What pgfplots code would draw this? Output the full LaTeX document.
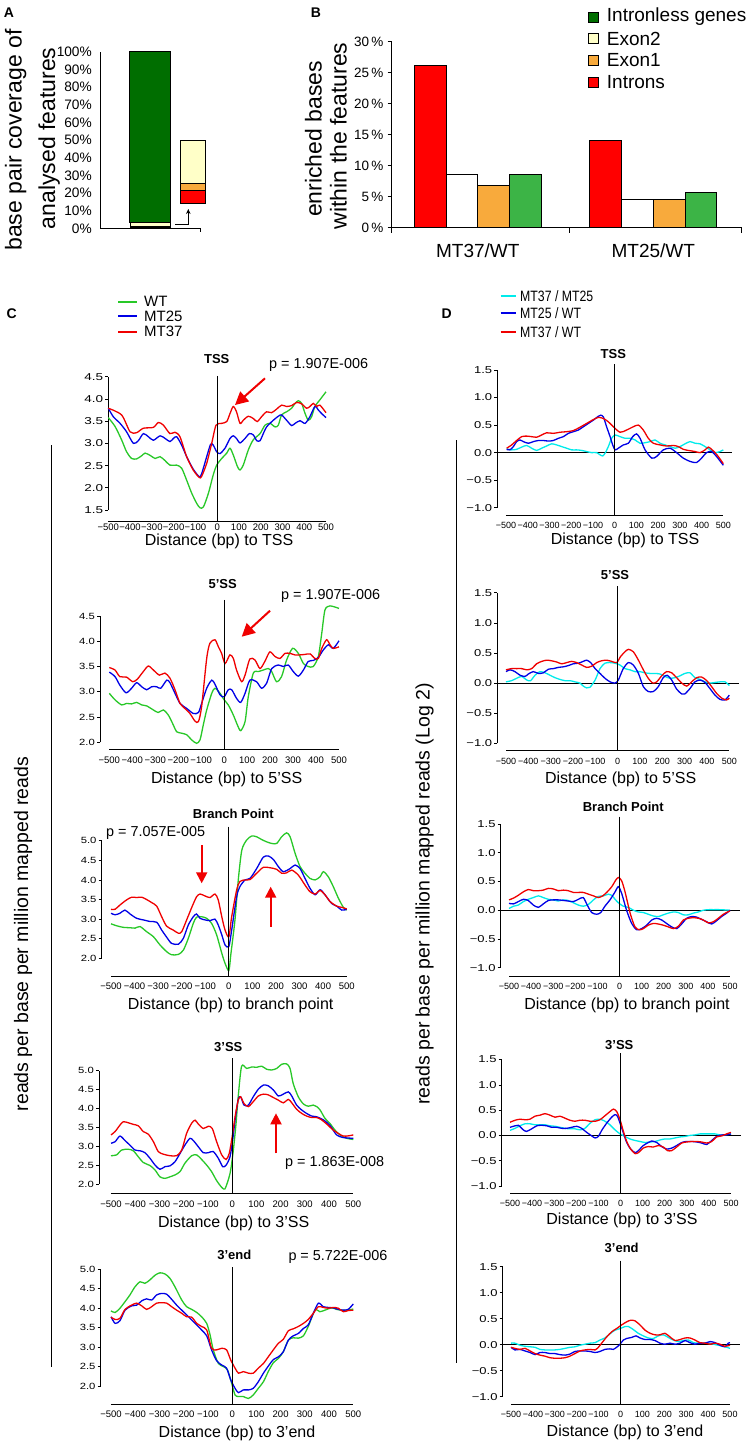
\documentclass[border=0pt]{standalone}
\usepackage{fontspec}
\setmainfont{Liberation Sans}
\usepackage{graphicx}
\usepackage{pgfplots}
\pgfplotsset{compat=1.18}
\usetikzlibrary{arrows.meta}
\newcommand{\fs}[1]{\fontsize{#1}{#1}\selectfont}
\newcommand{\sy}[1]{\scalebox{1.25}[1]{#1}}
\newcommand{\syb}[1]{\scalebox{1.35}[1]{#1}}
\newcommand{\sd}[1]{\scalebox{1.3}[1]{#1}}
\definecolor{cgreen}{RGB}{40,200,40}
\definecolor{cblue}{RGB}{0,0,230}
\definecolor{cred}{RGB}{240,0,0}
\definecolor{ccyan}{RGB}{0,235,235}
\definecolor{bdkgreen}{RGB}{0,110,0}
\definecolor{bltyellow}{RGB}{255,255,200}
\definecolor{borange}{RGB}{248,170,60}
\definecolor{bred}{RGB}{255,0,0}
\definecolor{bgreen}{RGB}{60,180,70}
\pgfplotsset{
  lp/.style={scale only axis, axis lines=left, axis line style={draw=none,-},
    clip=false, xmax=500,
    xtick={-500,-400,-300,-200,-100,0,100,200,300,400,500},
    xticklabels={−500,−400,−300,−200,−100,0,100,200,300,400,500},
    tick style={black, line width=0.6pt}, x tick style={draw=none},
    major tick length=3pt, tick align=outside,
    xticklabel style={font=\fs{9.5}, inner sep=4pt},
    yticklabel style={font=\fs{9}, inner sep=2pt},
  },
  cp/.style={lp, ytick={1.5,2,2.5,3,3.5,4,4.5,5},
    yticklabels={\sy{1.5},\sy{2.0},\sy{2.5},\sy{3.0},\sy{3.5},\sy{4.0},\sy{4.5},\sy{5.0}}},
  dp/.style={lp, ymax=1.5, ytick={-1,-0.5,0,0.5,1,1.5},
    yticklabels={\sd{−1.0},\sd{−0.5},\sd{0.0},\sd{0.5},\sd{1.0},\sd{1.5}},
    yticklabel style={font=\fs{10}, inner sep=2pt}, xticklabel style={font=\fs{9}}},
  wt/.style={cgreen, line width=1.3pt, smooth, tension=0.45, no markers},
  mtb/.style={cblue, line width=1.3pt, smooth, tension=0.45, no markers},
  mtr/.style={cred, line width=1.3pt, smooth, tension=0.45, no markers},
  cy/.style={ccyan, line width=1.3pt, smooth, tension=0.45, no markers},
}
\begin{document}
\begin{tikzpicture}
\path[use as bounding box, fill=white] (0pt,0pt) rectangle (746pt,-1443pt);

%% ---------------- Panel A ----------------
\begin{axis}[at={(100pt,-228.3pt)}, anchor=south west, scale only axis,
  width=100pt, height=176.6pt, xmin=-0.1835, xmax=2.169, ymin=0, ymax=100,
  clip=false, axis lines=left, axis line style={draw=none,-},
  xtick=\empty, ytick={0,10,20,30,40,50,60,70,80,90,100},
  yticklabels={0\%,10\%,20\%,30\%,40\%,50\%,60\%,70\%,80\%,90\%,100\%},
  yticklabel style={font=\fs{13.7}, inner sep=0pt, xshift=-8pt},
  major tick length=0pt, tick style={draw=none},
  ybar stacked, bar width=40.7pt]
\addplot[fill=bred, draw=black, line width=0.5pt] coordinates {(1,0.5)};
\addplot[fill=borange, draw=black, line width=0.5pt] coordinates {(1,0.5)};
\addplot[fill=bltyellow, draw=black, line width=0.5pt] coordinates {(1,2.3)};
\addplot[fill=bdkgreen, draw=black, line width=1pt] coordinates {(1,96.7)};
\draw[line width=1pt] (axis cs:-0.1835,0) -- (axis cs:-0.1835,100);
\draw[line width=1pt] (axis cs:-0.1835,0) -- (axis cs:2.169,0) -- ++(0pt,-4pt);
\end{axis}
\begin{axis}[at={(100pt,-228.3pt)}, anchor=south west, scale only axis,
  width=100pt, height=176.6pt, xmin=-0.1835, xmax=2.169, ymin=0, ymax=100,
  clip=false, hide axis, ybar stacked, bar width=24.3pt]
\addplot[draw=none, fill=none] coordinates {(2,14.2)};
\addplot[fill=bred, draw=black, line width=0.5pt] coordinates {(2,7.1)};
\addplot[fill=borange, draw=black, line width=0.5pt] coordinates {(2,4.2)};
\addplot[fill=bltyellow, draw=black, line width=0.5pt] coordinates {(2,24.1)};
\end{axis}
\draw[line width=0.8pt, -{Stealth[length=5pt,width=4.5pt]}] (175pt,-224pt) -- (188.3pt,-224pt) -- (188.3pt,-209pt);
\node[font=\fs{14}\bfseries] at (9pt,-13pt) {A};
\node[rotate=90, anchor=base, font=\fs{23}, inner sep=0pt] at (21.7pt,-140pt) {base pair coverage of};
\node[rotate=90, anchor=base, font=\fs{23}, inner sep=0pt] at (55pt,-138.3pt) {analysed features};

%% ---------------- Panel B ----------------
\begin{axis}[at={(391.7pt,-227.7pt)}, anchor=south west, scale only axis,
  width=350pt, height=186pt, xmin=0.5094, xmax=2.5037, ymin=0, ymax=30,
  clip=false, axis lines=left, axis line style={draw=none,-},
  xtick={1,2}, xticklabels={MT37/WT,MT25/WT},
  xticklabel style={font=\fs{19}, inner sep=0pt, yshift=-12pt},
  ytick={0,5,10,15,20,25,30},
  yticklabels={0\,\%,5\,\%,10\,\%,15\,\%,20\,\%,25\,\%,30\,\%},
  yticklabel style={font=\fs{13.5}, inner sep=0pt, xshift=-4pt},
  tick style={black, line width=0.8pt}, x tick style={draw=none},
  major tick length=4pt, tick align=outside,
  ybar, bar width=31.7pt]
\addplot[fill=bred, draw=black, line width=1pt, bar shift=-47.6pt] coordinates {(1,26.1) (2,14.1)};
\addplot[fill=white, draw=black, line width=1pt, bar shift=-15.9pt] coordinates {(1,8.6) (2,4.6)};
\addplot[fill=borange, draw=black, line width=1pt, bar shift=15.9pt] coordinates {(1,6.8) (2,4.6)};
\addplot[fill=bgreen, draw=black, line width=1pt, bar shift=47.6pt] coordinates {(1,8.6) (2,5.7)};
\draw[line width=1pt] (axis cs:0.5094,0) -- (axis cs:0.5094,30);
\draw[line width=1pt] (axis cs:0.5094,0) -- (axis cs:2.5037,0);
\draw[line width=1pt] (axis cs:0.5094,0) -- ++(0pt,-5pt);
\draw[line width=1pt] (axis cs:1.5197,0) -- ++(0pt,-5pt);
\draw[line width=1pt] (axis cs:2.5037,0) -- ++(0pt,-5pt);
\end{axis}
\node[font=\fs{14}\bfseries] at (316pt,-12.5pt) {B};
\node[rotate=90, anchor=base, font=\fs{23}, inner sep=0pt] at (321.7pt,-139pt) {enriched bases};
\node[rotate=90, anchor=base, font=\fs{23}, inner sep=0pt] at (346.7pt,-135.8pt) {within the features};
\foreach \yy/\cc/\lab in {17/bdkgreen/Intronless genes, 38.7/bltyellow/Exon2, 60.3/borange/Exon1, 82/bred/Introns}{
  \filldraw[fill=\cc, draw=black, line width=0.8pt] (588pt,-\yy pt+5pt) rectangle (598pt,-\yy pt-5pt);
  \node[anchor=west, inner sep=0pt, font=\fs{19}] at (606.7pt,-\yy pt) {\lab};
}

%% ---------------- Panel C ----------------
\node[font=\fs{14}\bfseries] at (11.7pt,-314pt) {C};
\draw[draw=cgreen, line width=1.8pt] (118pt,-301.7pt) -- (137pt,-301.7pt);
\draw[draw=cblue, line width=1.8pt] (118pt,-316pt) -- (137pt,-316pt);
\draw[draw=cred, line width=1.8pt] (118pt,-331.7pt) -- (137pt,-331.7pt);
\node[anchor=west, inner sep=0pt, font=\fs{15}] at (144pt,-301.7pt) {WT};
\node[anchor=west, inner sep=0pt, font=\fs{15}] at (144pt,-316pt) {MT25};
\node[anchor=west, inner sep=0pt, font=\fs{15}] at (144pt,-331.7pt) {MT37};
\draw[line width=1pt] (51.7pt,-445pt) -- (51.7pt,-1366.7pt);
\node[rotate=90, font=\fs{19.5}, inner sep=0pt] at (23pt,-934pt) {reads per base per million mapped reads};

% C TSS
\begin{axis}[cp, at={(108.3pt,-521.7pt)}, anchor=south west, width=217.7pt, height=145pt,
  xmin=-500, ymin=1.2367, ymax=4.5, ytick={1.5,2,2.5,3,3.5,4,4.5},
  yticklabels={\syb{1.5},\syb{2.0},\syb{2.5},\syb{3.0},\syb{3.5},\syb{4.0},\syb{4.5}},
  yticklabel style={font=\fs{10}},
  xticklabel style={inner sep=0.5pt, yshift=2pt}]
\draw[line width=0.9pt] (axis cs:-500,1.5) -- (axis cs:-500,4.5);
\draw[line width=0.9pt] (axis cs:-500,1.2367) -- (axis cs:500,1.2367);
\addplot[wt] coordinates {(-500,3.58) (-469,3.38) (-439,3.08) (-416,2.81) (-393,2.66) (-370,2.65) (-347,2.72) (-331,2.78) (-308,2.73) (-285,2.66) (-262,2.7) (-239,2.61) (-217,2.51) (-186,2.51) (-163,2.44) (-140,2.17) (-117,1.88) (-94,1.65) (-79,1.55) (-63,1.57) (-40,1.88) (-18,2.29) (-2,2.51) (21,2.66) (44,2.78) (59,2.89) (74,2.74) (93,2.48) (105,2.4) (120,2.51) (143,2.85) (166,3.08) (197,3.22) (220,3.41) (243,3.45) (266,3.37) (281,3.41) (296,3.64) (319,3.71) (342,3.79) (358,3.9) (373,3.96) (388,3.9) (404,3.67) (419,3.52) (434,3.6) (449,3.83) (472,3.98) (500,4.16)};
\addplot[mtb] coordinates {(-500,3.79) (-477,3.6) (-446,3.45) (-416,3.26) (-385,3.0) (-362,3.06) (-339,3.22) (-316,3.15) (-293,3.07) (-262,3.17) (-239,3.11) (-217,3.04) (-201,3.11) (-186,3.15) (-163,2.96) (-140,2.7) (-110,2.42) (-82,2.25) (-71,2.32) (-48,2.7) (-30,2.98) (-18,2.96) (-2,2.81) (13,2.77) (36,2.89) (59,3.11) (74,3.17) (89,3.11) (105,3.01) (128,3.11) (148,3.22) (166,3.19) (182,3.06) (197,3.06) (212,3.22) (227,3.37) (258,3.52) (281,3.61) (296,3.64) (319,3.52) (342,3.4) (358,3.45) (381,3.51) (404,3.45) (426,3.6) (449,3.83) (465,3.75) (480,3.67) (500,3.58)};
\addplot[mtr] coordinates {(-500,3.79) (-439,3.64) (-400,3.26) (-370,3.24) (-339,3.34) (-293,3.36) (-270,3.47) (-247,3.41) (-217,3.22) (-194,3.25) (-171,3.15) (-140,2.7) (-110,2.4) (-82,2.23) (-71,2.26) (-48,2.55) (-25,3.0) (-5,3.41) (21,3.45) (44,3.49) (59,3.67) (74,3.83) (89,3.71) (105,3.45) (120,3.52) (143,3.61) (166,3.56) (184,3.49) (204,3.6) (227,3.71) (250,3.69) (273,3.77) (296,3.86) (319,3.83) (342,3.85) (365,3.92) (388,3.89) (411,3.79) (426,3.83) (442,3.9) (457,3.83) (472,3.86) (500,3.69)};
\draw[line width=0.9pt] (axis cs:0,4.52) -- (axis cs:0,1.2367);
\end{axis}
\node[font=\fs{13}\bfseries] at (216.7pt,-359.3pt) {TSS};
\node[anchor=west, inner sep=0pt, font=\fs{14.4}] at (269pt,-365pt) {p = 1.907E-006};
\draw[cred, line width=2pt, -{Triangle[length=13pt,width=13pt]}] (265pt,-378.3pt) -- (235pt,-405pt);
\node[font=\fs{16}] at (219pt,-541.7pt) {Distance (bp) to TSS};

% C 5'SS
\begin{axis}[cp, at={(100pt,-749.3pt)}, anchor=south west, width=239pt, height=133.3pt,
  xmin=-540.5, ymin=1.8614, ymax=4.5]
\draw[line width=0.9pt] (axis cs:-540.5,2) -- (axis cs:-540.5,4.5);
\draw[line width=0.9pt] (axis cs:-500,1.8614) -- (axis cs:500,1.8614);
\addplot[wt] coordinates {(-500,2.97) (-475,2.84) (-446,2.74) (-425,2.77) (-403,2.76) (-381,2.79) (-359,2.74) (-337,2.72) (-308,2.64) (-287,2.59) (-265,2.64) (-243,2.54) (-221,2.34) (-207,2.21) (-185,2.18) (-163,2.15) (-142,2.05) (-120,1.98) (-105,2.05) (-91,2.34) (-76,2.64) (-54,2.97) (-40,3.07) (-18,2.97) (0,2.84) (18,2.74) (40,2.54) (58,2.34) (72,2.23) (91,2.41) (105,2.9) (127,3.37) (149,3.4) (170,3.43) (192,3.46) (207,3.4) (228,3.2) (250,3.3) (272,3.63) (298,3.86) (323,3.76) (345,3.56) (366,3.5) (388,3.5) (410,3.7) (425,4.16) (439,4.62) (461,4.7) (500,4.65)};
\addplot[mtb] coordinates {(-500,3.39) (-475,3.3) (-454,3.13) (-427,2.98) (-403,3.07) (-381,3.18) (-359,3.1) (-337,3.04) (-316,3.1) (-294,3.1) (-276,3.07) (-250,3.23) (-236,3.18) (-214,2.97) (-192,2.77) (-163,2.67) (-134,2.57) (-112,2.59) (-98,2.77) (-76,3.07) (-54,3.23) (-40,3.15) (-18,2.94) (0,2.9) (18,3.04) (33,3.04) (54,2.87) (72,2.79) (91,2.97) (112,3.23) (141,3.2) (163,3.07) (185,3.17) (207,3.46) (236,3.53) (257,3.5) (279,3.53) (301,3.4) (323,3.31) (345,3.43) (366,3.6) (388,3.62) (410,3.68) (432,3.83) (454,3.93) (475,3.86) (500,4.01)};
\addplot[mtr] coordinates {(-500,3.48) (-475,3.43) (-454,3.3) (-425,3.29) (-398,3.2) (-378,3.25) (-352,3.4) (-330,3.51) (-308,3.43) (-282,3.33) (-258,3.37) (-236,3.27) (-214,3.04) (-192,2.77) (-171,2.67) (-149,2.57) (-127,2.42) (-112,2.41) (-98,2.71) (-76,3.66) (-62,3.96) (-40,4.03) (-25,3.89) (-11,3.76) (4,3.56) (25,3.73) (40,3.66) (54,3.43) (76,3.2) (91,3.33) (112,3.65) (134,3.63) (156,3.46) (177,3.6) (199,3.79) (221,3.7) (243,3.66) (265,3.76) (287,3.76) (308,3.73) (330,3.73) (352,3.74) (374,3.75) (395,3.66) (410,3.66) (425,3.86) (446,4.03) (461,3.93) (475,3.86) (500,3.89)};
\draw[line width=0.9pt] (axis cs:0,4.817) -- (axis cs:0,1.8614);
\end{axis}
\node[font=\fs{13}\bfseries] at (222.7pt,-584.3pt) {5’SS};
\node[anchor=west, inner sep=0pt, font=\fs{14.4}] at (281pt,-596pt) {p = 1.907E-006};
\draw[cred, line width=2pt, -{Triangle[length=13pt,width=13pt]}] (270pt,-610.7pt) -- (241.7pt,-636.7pt);
\node[font=\fs{16}] at (226.7pt,-779.3pt) {Distance (bp) to 5’SS};

% C Branch point
\begin{axis}[cp, at={(101.7pt,-976pt)}, anchor=south west, width=245pt, height=135.3pt,
  xmin=-539.5, ymin=1.5485, ymax=5.0, ytick={2,2.5,3,3.5,4,4.5,5},
  yticklabels={\sy{2.0},\sy{2.5},\sy{3.0},\sy{3.5},\sy{4.0},\sy{4.5},\sy{5.0}}]
\draw[line width=0.9pt] (axis cs:-539.5,2) -- (axis cs:-539.5,5);
\draw[line width=0.9pt] (axis cs:-500,1.5485) -- (axis cs:500,1.5485);
\addplot[wt] coordinates {(-500,2.88) (-476,2.83) (-448,2.79) (-419,2.78) (-398,2.77) (-377,2.81) (-349,2.68) (-320,2.55) (-292,2.34) (-264,2.17) (-243,2.09) (-214,2.1) (-193,2.21) (-172,2.51) (-151,2.89) (-137,3.05) (-115,3.06) (-94,3.02) (-73,2.89) (-52,2.6) (-30,2.13) (-16,1.87) (0,1.69) (9,2.13) (26,2.98) (40,4.0) (55,4.76) (76,5.02) (97,5.12) (118,5.1) (139,5.03) (161,4.97) (182,4.93) (203,4.93) (224,5.1) (245,5.2) (260,5.1) (281,4.68) (302,4.34) (323,4.17) (344,4.04) (366,4.0) (387,4.08) (401,4.21) (422,4.08) (443,3.83) (465,3.53) (486,3.3) (500,3.23)};
\addplot[mtb] coordinates {(-500,3.15) (-483,3.11) (-462,3.15) (-441,3.23) (-419,3.13) (-391,3.02) (-363,2.98) (-335,2.94) (-306,2.92) (-285,2.72) (-264,2.54) (-243,2.38) (-214,2.36) (-193,2.51) (-172,2.85) (-151,3.06) (-137,3.13) (-122,3.02) (-101,2.98) (-80,2.96) (-59,3.0) (-45,2.85) (-30,2.6) (-16,2.34) (0,2.3) (12,2.72) (33,3.57) (47,3.83) (69,4.0) (90,4.04) (118,4.29) (146,4.58) (168,4.61) (189,4.52) (210,4.34) (231,4.21) (260,4.29) (281,4.38) (302,4.29) (323,4.04) (344,3.79) (366,3.62) (387,3.75) (408,3.62) (436,3.4) (458,3.33) (479,3.23) (500,3.25)};
\addplot[mtr] coordinates {(-500,3.25) (-483,3.25) (-462,3.36) (-434,3.49) (-412,3.56) (-391,3.55) (-370,3.56) (-349,3.5) (-327,3.42) (-306,3.33) (-285,3.06) (-264,2.82) (-236,2.72) (-214,2.64) (-200,2.68) (-179,2.98) (-158,3.29) (-137,3.57) (-122,3.64) (-101,3.59) (-80,3.55) (-59,3.64) (-45,3.49) (-30,3.06) (-16,2.72) (0,2.55) (12,3.06) (33,3.74) (47,3.96) (69,4.0) (90,4.01) (118,4.17) (146,4.32) (175,4.31) (203,4.27) (224,4.17) (245,4.18) (267,4.25) (295,4.12) (323,3.87) (344,3.7) (366,3.64) (387,3.73) (408,3.62) (429,3.45) (458,3.33) (479,3.3) (500,3.26)};
\draw[line width=0.9pt] (axis cs:0,5.357) -- (axis cs:0,1.5485);
\end{axis}
\node[font=\fs{13}\bfseries] at (233.3pt,-814pt) {Branch Point};
\node[anchor=west, inner sep=0pt, font=\fs{14.4}] at (106pt,-833.3pt) {p = 7.057E-005};
\draw[cred, line width=2pt, -{Triangle[length=11pt,width=11pt]}] (201.7pt,-845pt) -- (201.7pt,-883.3pt);
\draw[cred, line width=2pt, -{Triangle[length=11pt,width=11pt]}] (270.7pt,-926.7pt) -- (270.7pt,-886.7pt);
\node[font=\fs{16}] at (230.7pt,-1005pt) {Distance (bp) to branch point};

% C 3'SS
\begin{axis}[cp, at={(99pt,-1193.3pt)}, anchor=south west, width=254.3pt, height=122.6pt,
  xmin=-549.5, ymin=1.7538, ymax=5.0, ytick={2,2.5,3,3.5,4,4.5,5},
  yticklabels={\sy{2.0},\sy{2.5},\sy{3.0},\sy{3.5},\sy{4.0},\sy{4.5},\sy{5.0}}]
\draw[line width=0.9pt] (axis cs:-549.5,2) -- (axis cs:-549.5,5);
\draw[line width=0.9pt] (axis cs:-500,1.7538) -- (axis cs:500,1.7538);
\addplot[wt] coordinates {(-500,2.75) (-477,2.77) (-456,2.9) (-428,2.92) (-408,2.88) (-387,2.72) (-367,2.57) (-339,2.49) (-318,2.37) (-298,2.19) (-277,2.15) (-257,2.19) (-236,2.24) (-215,2.33) (-195,2.55) (-167,2.75) (-146,2.77) (-126,2.65) (-105,2.5) (-85,2.33) (-64,2.09) (-43,1.91) (-30,1.87) (-16,2.11) (-6,2.37) (5,2.9) (16,3.6) (25,4.31) (39,5.12) (60,5.06) (81,5.1) (101,5.09) (122,5.12) (142,5.04) (163,5.02) (184,5.06) (204,5.17) (225,5.18) (239,5.06) (252,4.66) (273,4.31) (294,4.12) (314,4.06) (335,4.09) (349,4.05) (363,3.96) (383,3.74) (404,3.6) (424,3.43) (445,3.3) (473,3.21) (500,3.18)};
\addplot[mtb] coordinates {(-500,3.08) (-483,3.12) (-463,3.27) (-442,3.15) (-422,3.03) (-401,2.9) (-380,2.88) (-360,2.83) (-339,2.68) (-318,2.5) (-298,2.39) (-277,2.46) (-257,2.48) (-236,2.59) (-215,2.81) (-195,3.03) (-174,3.21) (-160,3.15) (-140,2.99) (-119,2.83) (-98,2.83) (-78,2.86) (-57,2.68) (-39,2.46) (-25,2.5) (-9,2.72) (2,3.16) (12,3.69) (25,4.24) (35,4.31) (49,4.09) (67,4.09) (87,4.31) (108,4.51) (129,4.62) (149,4.6) (170,4.49) (191,4.33) (211,4.38) (232,4.44) (246,4.33) (266,4.09) (287,3.96) (307,3.87) (328,3.8) (349,3.78) (376,3.7) (404,3.55) (431,3.3) (459,3.23) (500,3.21)};
\addplot[mtr] coordinates {(-500,3.3) (-483,3.39) (-463,3.56) (-449,3.65) (-428,3.62) (-408,3.58) (-387,3.54) (-367,3.39) (-346,3.32) (-325,3.12) (-305,2.86) (-284,2.79) (-257,2.75) (-229,2.75) (-208,2.9) (-188,3.34) (-167,3.61) (-153,3.69) (-140,3.59) (-119,3.47) (-98,3.53) (-82,3.47) (-64,3.12) (-43,2.77) (-25,2.65) (-12,2.81) (0,3.25) (12,3.78) (25,4.22) (35,4.31) (49,4.13) (67,4.05) (87,4.18) (108,4.33) (129,4.38) (149,4.36) (170,4.29) (191,4.22) (211,4.15) (232,4.24) (246,4.15) (266,3.98) (287,3.87) (307,3.8) (328,3.76) (349,3.76) (369,3.7) (397,3.55) (417,3.43) (459,3.27) (500,3.3)};
\draw[line width=0.9pt] (axis cs:0,5.328) -- (axis cs:0,1.7538);
\end{axis}
\node[font=\fs{13}\bfseries] at (228.3pt,-1046.7pt) {3’SS};
\node[anchor=west, inner sep=0pt, font=\fs{14.4}] at (285pt,-1163.3pt) {p = 1.863E-008};
\draw[cred, line width=2pt, -{Triangle[length=11pt,width=11pt]}] (276pt,-1153.3pt) -- (276pt,-1113.3pt);
\node[font=\fs{16}] at (233.7pt,-1223.3pt) {Distance (bp) to 3’SS};

% C 3'end
\begin{axis}[cp, at={(100.7pt,-1404pt)}, anchor=south west, width=252.6pt, height=134.7pt,
  xmin=-542.5, ymin=1.5373, ymax=5.0, ytick={2,2.5,3,3.5,4,4.5,5},
  yticklabels={\sy{2.0},\sy{2.5},\sy{3.0},\sy{3.5},\sy{4.0},\sy{4.5},\sy{5.0}}]
\draw[line width=0.9pt] (axis cs:-542.5,2) -- (axis cs:-542.5,5);
\draw[line width=0.9pt] (axis cs:-500,1.5373) -- (axis cs:500,1.5373);
\addplot[wt] coordinates {(-500,3.93) (-483,3.89) (-463,4.0) (-442,4.17) (-422,4.34) (-401,4.55) (-380,4.68) (-360,4.64) (-339,4.73) (-318,4.85) (-298,4.91) (-277,4.88) (-257,4.77) (-236,4.55) (-208,4.21) (-188,4.04) (-167,3.97) (-146,3.89) (-126,3.78) (-105,3.61) (-91,3.31) (-78,2.93) (-57,2.58) (-36,2.5) (-19,2.41) (-2,2.07) (12,1.77) (26,1.73) (46,1.73) (67,1.68) (87,1.77) (108,1.94) (129,2.11) (149,2.37) (170,2.6) (191,2.71) (211,2.88) (232,3.18) (252,3.24) (273,3.23) (294,3.29) (314,3.53) (342,3.95) (362,3.91) (383,3.95) (411,4.01) (431,3.97) (452,3.95) (479,3.95) (500,3.98)};
\addplot[mtb] coordinates {(-500,3.78) (-483,3.61) (-463,3.68) (-442,3.95) (-415,4.06) (-394,4.08) (-373,4.19) (-353,4.24) (-332,4.21) (-312,4.34) (-291,4.38) (-270,4.36) (-250,4.23) (-229,4.08) (-208,3.95) (-188,3.83) (-167,3.7) (-146,3.57) (-126,3.44) (-105,3.29) (-85,2.93) (-64,2.65) (-43,2.54) (-23,2.46) (-6,2.16) (12,1.94) (26,1.83) (46,1.9) (67,1.9) (87,1.94) (108,2.11) (129,2.33) (149,2.51) (170,2.68) (191,2.75) (211,2.88) (232,3.18) (252,3.29) (273,3.35) (294,3.48) (314,3.57) (335,3.87) (356,4.13) (376,4.04) (397,4.02) (417,4.01) (438,3.97) (459,3.95) (479,3.97) (500,4.11)};
\addplot[mtr] coordinates {(-500,3.77) (-483,3.71) (-463,3.74) (-442,3.97) (-415,4.08) (-394,4.13) (-373,4.06) (-353,3.97) (-332,4.04) (-312,4.13) (-291,4.14) (-270,4.13) (-250,4.04) (-229,3.95) (-208,3.87) (-188,3.78) (-167,3.77) (-146,3.61) (-126,3.53) (-105,3.44) (-85,2.97) (-64,2.93) (-43,2.97) (-23,2.93) (-6,2.67) (12,2.46) (26,2.33) (46,2.37) (67,2.33) (87,2.33) (108,2.46) (129,2.58) (149,2.75) (170,2.93) (191,3.1) (211,3.2) (232,3.42) (252,3.47) (273,3.53) (294,3.61) (314,3.71) (335,3.87) (356,4.04) (376,4.02) (397,4.0) (417,4.02) (438,4.0) (459,3.91) (479,3.94) (500,3.95)};
\draw[line width=0.9pt] (axis cs:0,5.05) -- (axis cs:0,1.5373);
\end{axis}
\node[font=\fs{13}\bfseries] at (234.3pt,-1255pt) {3’end};
\node[anchor=west, inner sep=0pt, font=\fs{14.4}] at (288.3pt,-1256.7pt) {p = 5.722E-006};
\node[font=\fs{16}] at (237pt,-1433.3pt) {Distance (bp) to 3’end};

%% ---------------- Panel D ----------------
\node[font=\fs{14}\bfseries] at (446.7pt,-313.3pt) {D};
\draw[draw=ccyan, line width=1.8pt] (500.7pt,-296pt) -- (516pt,-296pt);
\draw[draw=cblue, line width=1.8pt] (500.7pt,-313.3pt) -- (516pt,-313.3pt);
\draw[draw=cred, line width=1.8pt] (500.7pt,-331.7pt) -- (516pt,-331.7pt);
\node[anchor=west, inner sep=0pt, font=\fs{15}] at (520pt,-296pt) {\scalebox{0.82}[1]{MT37 / MT25}};
\node[anchor=west, inner sep=0pt, font=\fs{15}] at (520pt,-313.3pt) {\scalebox{0.82}[1]{MT25 / WT}};
\node[anchor=west, inner sep=0pt, font=\fs{15}] at (520pt,-331.7pt) {\scalebox{0.82}[1]{MT37 / WT}};
\draw[line width=1pt] (456pt,-440pt) -- (456pt,-1363.3pt);
\node[rotate=90, font=\fs{19.5}, inner sep=0pt] at (424.5pt,-894pt) {reads per base per million mapped reads (Log 2)};

% D TSS
\begin{axis}[dp, at={(497.3pt,-515pt)}, anchor=south west, width=226pt, height=145pt,
  xmin=-540, ymin=-1.1325]
\draw[line width=0.9pt] (axis cs:-540,-1) -- (axis cs:-540,1.5);
\draw[line width=0.9pt] (axis cs:-500,-1.1325) -- (axis cs:500,-1.1325);
\draw[line width=0.9pt] (axis cs:-540,0) -- (axis cs:538.6,0);
\addplot[cy] coordinates {(-497,0.07) (-474,0.05) (-451,0.06) (-428,0.1) (-405,0.13) (-382,0.08) (-359,0.04) (-336,0.08) (-313,0.12) (-290,0.16) (-267,0.14) (-244,0.11) (-221,0.08) (-198,0.05) (-175,0.05) (-152,0.04) (-129,0.02) (-106,0.0) (-83,0.0) (-67,-0.04) (-55,-0.06) (-44,-0.01) (-29,0.11) (-14,0.26) (2,0.32) (25,0.29) (48,0.26) (71,0.26) (94,0.23) (117,0.17) (140,0.18) (163,0.2) (186,0.23) (209,0.17) (232,0.14) (255,0.11) (278,0.08) (301,0.11) (324,0.16) (347,0.2) (370,0.17) (393,0.16) (416,0.11) (439,0.05) (462,0.0) (485,0.02) (500,0.05)};
\addplot[mtb] coordinates {(-497,0.06) (-482,0.05) (-466,0.11) (-451,0.2) (-436,0.23) (-420,0.2) (-397,0.17) (-374,0.2) (-351,0.22) (-328,0.22) (-305,0.21) (-282,0.22) (-259,0.26) (-236,0.29) (-213,0.35) (-190,0.38) (-167,0.41) (-144,0.47) (-121,0.53) (-98,0.59) (-75,0.66) (-64,0.68) (-52,0.65) (-37,0.47) (-21,0.29) (-9,0.14) (2,0.05) (17,0.08) (40,0.14) (63,0.17) (83,0.29) (101,0.34) (117,0.26) (140,0.05) (171,-0.1) (193,-0.07) (224,0.05) (255,0.08) (285,0.0) (316,-0.1) (347,-0.16) (377,-0.18) (400,-0.1) (423,0.0) (446,0.02) (469,-0.07) (500,-0.23)};
\addplot[mtr] coordinates {(-497,0.08) (-474,0.14) (-451,0.22) (-428,0.29) (-405,0.3) (-382,0.29) (-359,0.28) (-336,0.32) (-313,0.36) (-282,0.35) (-252,0.37) (-221,0.38) (-190,0.4) (-160,0.46) (-129,0.53) (-98,0.6) (-75,0.64) (-52,0.62) (-29,0.56) (-6,0.47) (25,0.37) (55,0.41) (86,0.47) (109,0.5) (132,0.41) (155,0.26) (178,0.17) (209,0.14) (239,0.12) (270,0.13) (293,0.11) (316,0.06) (339,0.04) (370,0.02) (393,0.0) (416,0.05) (431,0.1) (446,0.06) (469,-0.03) (500,-0.2)};
\draw[line width=0.9pt] (axis cs:0,1.6035) -- (axis cs:0,-1.1325);
\end{axis}
\node[font=\fs{13}\bfseries] at (613.3pt,-354.3pt) {TSS};
\node[font=\fs{16}] at (625pt,-540pt) {Distance (bp) to TSS};

% D 5'SS
\begin{axis}[dp, at={(497.3pt,-750.7pt)}, anchor=south west, width=232pt, height=158pt,
  xmin=-539, ymin=-1.1228]
\draw[line width=0.9pt] (axis cs:-539,-1) -- (axis cs:-539,1.5);
\draw[line width=0.9pt] (axis cs:-500,-1.1228) -- (axis cs:500,-1.1228);
\draw[line width=0.9pt] (axis cs:-539,0) -- (axis cs:544.8,0);
\addplot[cy] coordinates {(-500,0.02) (-475,0.04) (-452,0.08) (-430,0.11) (-407,0.05) (-390,0.04) (-370,0.13) (-348,0.19) (-325,0.17) (-303,0.13) (-281,0.09) (-258,0.06) (-236,0.04) (-213,0.04) (-191,0.02) (-169,0.0) (-154,-0.05) (-139,-0.08) (-124,-0.07) (-101,0.05) (-79,0.24) (-57,0.33) (-34,0.34) (-12,0.33) (10,0.3) (33,0.24) (55,0.22) (78,0.19) (100,0.19) (122,0.17) (145,0.16) (167,0.16) (190,0.15) (212,0.11) (234,0.08) (257,0.09) (279,0.12) (301,0.16) (324,0.17) (346,0.09) (369,0.06) (391,0.02) (413,0.0) (436,0.01) (458,0.02) (481,0.02) (500,-0.04)};
\addplot[mtb] coordinates {(-500,0.19) (-482,0.22) (-460,0.19) (-437,0.13) (-415,0.11) (-400,0.15) (-378,0.19) (-355,0.16) (-333,0.17) (-310,0.23) (-288,0.24) (-266,0.26) (-243,0.27) (-221,0.29) (-199,0.32) (-176,0.33) (-154,0.36) (-139,0.38) (-121,0.34) (-101,0.24) (-79,0.16) (-57,0.08) (-34,0.02) (-12,0.0) (3,0.05) (25,0.24) (48,0.34) (70,0.3) (93,0.16) (115,-0.06) (137,-0.14) (160,-0.14) (182,-0.06) (204,0.09) (222,0.13) (242,0.05) (264,-0.1) (287,-0.18) (301,-0.18) (324,-0.09) (346,0.02) (369,0.05) (391,0.01) (413,-0.09) (436,-0.2) (458,-0.27) (481,-0.28) (500,-0.2)};
\addplot[mtr] coordinates {(-500,0.22) (-475,0.24) (-452,0.24) (-430,0.24) (-407,0.22) (-385,0.24) (-363,0.32) (-340,0.36) (-318,0.38) (-296,0.37) (-273,0.35) (-251,0.32) (-228,0.34) (-206,0.36) (-184,0.34) (-161,0.3) (-139,0.26) (-116,0.28) (-94,0.34) (-72,0.37) (-49,0.38) (-27,0.36) (-4,0.34) (13,0.44) (33,0.52) (48,0.56) (70,0.52) (93,0.38) (115,0.22) (137,0.08) (157,0.0) (175,0.02) (197,0.12) (219,0.19) (242,0.17) (264,0.09) (287,0.0) (309,-0.05) (331,0.02) (354,0.09) (376,0.1) (399,0.04) (421,-0.06) (443,-0.17) (466,-0.25) (488,-0.28) (500,-0.25)};
\draw[line width=0.9pt] (axis cs:0,1.611) -- (axis cs:0,-1.1228);
\end{axis}
\node[font=\fs{13}\bfseries] at (615pt,-575pt) {5’SS};
\node[font=\fs{16}] at (620.7pt,-779.3pt) {Distance (bp) to 5’SS};

% D Branch point
\begin{axis}[dp, at={(500.7pt,-976pt)}, anchor=south west, width=229.3pt, height=152pt,
  xmin=-537.6, ymin=-1.1444]
\draw[line width=0.9pt] (axis cs:-537.6,-1) -- (axis cs:-537.6,1.5);
\draw[line width=0.9pt] (axis cs:-500,-1.1444) -- (axis cs:500,-1.1444);
\draw[line width=0.9pt] (axis cs:-537.6,0) -- (axis cs:545.2,0);
\addplot[cy] coordinates {(-500,0.03) (-480,0.07) (-458,0.09) (-435,0.15) (-413,0.19) (-390,0.22) (-367,0.25) (-345,0.22) (-322,0.19) (-299,0.18) (-277,0.16) (-254,0.18) (-232,0.17) (-209,0.13) (-186,0.09) (-164,0.07) (-141,0.1) (-118,0.18) (-96,0.24) (-73,0.25) (-50,0.28) (-35,0.26) (-20,0.19) (-5,0.13) (17,0.07) (40,0.05) (63,0.0) (85,-0.03) (108,-0.04) (130,-0.07) (153,-0.1) (176,-0.11) (198,-0.08) (221,-0.05) (244,-0.03) (266,-0.04) (289,-0.08) (311,-0.08) (334,-0.05) (357,-0.03) (379,0.0) (402,0.01) (425,0.01) (455,0.01) (500,0.0)};
\addplot[mtb] coordinates {(-500,0.12) (-480,0.11) (-458,0.15) (-435,0.19) (-413,0.17) (-390,0.09) (-367,0.05) (-345,0.11) (-322,0.17) (-299,0.18) (-277,0.18) (-254,0.17) (-232,0.16) (-209,0.15) (-186,0.19) (-164,0.22) (-146,0.09) (-126,-0.04) (-103,-0.07) (-85,-0.04) (-66,0.07) (-43,0.18) (-20,0.32) (-5,0.41) (10,0.29) (32,0.0) (55,-0.23) (78,-0.34) (100,-0.32) (123,-0.26) (146,-0.17) (168,-0.14) (191,-0.17) (213,-0.23) (236,-0.29) (259,-0.32) (281,-0.24) (304,-0.14) (327,-0.11) (349,-0.12) (372,-0.16) (394,-0.2) (417,-0.24) (440,-0.18) (462,-0.11) (485,-0.05) (500,0.0)};
\addplot[mtr] coordinates {(-500,0.18) (-480,0.21) (-458,0.26) (-435,0.32) (-413,0.36) (-390,0.34) (-367,0.34) (-345,0.35) (-322,0.38) (-299,0.37) (-277,0.34) (-254,0.35) (-232,0.34) (-209,0.31) (-186,0.31) (-164,0.31) (-141,0.28) (-118,0.25) (-96,0.22) (-76,0.25) (-58,0.31) (-35,0.41) (-16,0.53) (-4,0.57) (10,0.51) (25,0.32) (48,-0.05) (70,-0.29) (90,-0.34) (108,-0.32) (130,-0.26) (153,-0.23) (176,-0.24) (198,-0.26) (221,-0.29) (244,-0.32) (266,-0.28) (289,-0.17) (311,-0.14) (334,-0.13) (357,-0.14) (379,-0.17) (402,-0.22) (425,-0.2) (447,-0.14) (470,-0.07) (500,-0.01)};
\draw[line width=0.9pt] (axis cs:0,1.627) -- (axis cs:0,-1.1444);
\end{axis}
\node[font=\fs{13}\bfseries] at (623.3pt,-806.7pt) {Branch Point};
\node[font=\fs{16}] at (627pt,-1005pt) {Distance (bp) to branch point};

% D 3'SS
\begin{axis}[dp, at={(501.7pt,-1193.3pt)}, anchor=south west, width=229.3pt, height=133.8pt,
  xmin=-537.6, ymin=-1.1443]
\draw[line width=0.9pt] (axis cs:-537.6,-1) -- (axis cs:-537.6,1.5);
\draw[line width=0.9pt] (axis cs:-500,-1.1443) -- (axis cs:500,-1.1443);
\draw[line width=0.9pt] (axis cs:-537.6,0) -- (axis cs:543.9,0);
\addplot[cy] coordinates {(-500,0.1) (-477,0.14) (-455,0.19) (-432,0.23) (-410,0.23) (-387,0.21) (-364,0.21) (-342,0.21) (-319,0.19) (-296,0.18) (-274,0.16) (-251,0.14) (-229,0.13) (-206,0.13) (-183,0.11) (-161,0.14) (-138,0.24) (-115,0.31) (-93,0.32) (-70,0.28) (-48,0.21) (-25,0.11) (-2,0.03) (20,-0.02) (43,-0.07) (66,-0.1) (88,-0.12) (111,-0.14) (133,-0.13) (156,-0.12) (179,-0.09) (201,-0.07) (224,-0.07) (247,-0.05) (269,-0.03) (292,-0.02) (314,0.0) (337,0.01) (360,0.03) (382,0.03) (405,0.03) (428,0.03) (450,0.01) (473,0.01) (500,0.03)};
\addplot[mtb] coordinates {(-500,0.16) (-477,0.19) (-462,0.2) (-440,0.11) (-425,0.08) (-402,0.13) (-379,0.19) (-357,0.2) (-334,0.19) (-311,0.16) (-289,0.16) (-266,0.14) (-244,0.14) (-221,0.16) (-198,0.18) (-176,0.14) (-153,0.06) (-130,-0.01) (-115,-0.05) (-100,-0.02) (-85,0.1) (-63,0.24) (-40,0.36) (-25,0.41) (-14,0.38) (-2,0.24) (13,0.05) (28,-0.14) (46,-0.27) (66,-0.34) (81,-0.3) (103,-0.2) (126,-0.14) (141,-0.11) (164,-0.14) (186,-0.22) (209,-0.27) (232,-0.25) (254,-0.2) (277,-0.14) (299,-0.12) (322,-0.12) (345,-0.13) (367,-0.15) (390,-0.18) (413,-0.1) (435,-0.02) (458,0.01) (480,0.01) (500,0.03)};
\addplot[mtr] coordinates {(-500,0.26) (-477,0.3) (-455,0.32) (-432,0.31) (-410,0.32) (-387,0.38) (-364,0.4) (-342,0.43) (-319,0.4) (-296,0.36) (-274,0.38) (-251,0.34) (-229,0.3) (-206,0.28) (-183,0.3) (-161,0.3) (-138,0.28) (-115,0.28) (-93,0.31) (-70,0.39) (-48,0.47) (-32,0.52) (-17,0.47) (-2,0.31) (13,0.08) (28,-0.12) (46,-0.27) (66,-0.36) (81,-0.34) (103,-0.25) (126,-0.22) (148,-0.23) (171,-0.2) (194,-0.23) (212,-0.3) (232,-0.3) (254,-0.23) (277,-0.15) (299,-0.13) (322,-0.12) (345,-0.12) (367,-0.13) (390,-0.15) (413,-0.12) (435,-0.03) (458,-0.01) (480,0.03) (500,0.06)};
\draw[line width=0.9pt] (axis cs:0,1.6225) -- (axis cs:0,-1.1443);
\end{axis}
\node[font=\fs{13}\bfseries] at (619.3pt,-1045pt) {3’SS};
\node[font=\fs{16}] at (622pt,-1220.7pt) {Distance (bp) to 3’SS};

% D 3'end
\begin{axis}[dp, at={(502.7pt,-1404pt)}, anchor=south west, width=227.3pt, height=137.3pt,
  xmin=-537.9, ymin=-1.1404]
\draw[line width=0.9pt] (axis cs:-537.9,-1) -- (axis cs:-537.9,1.5);
\draw[line width=0.9pt] (axis cs:-500,-1.1404) -- (axis cs:500,-1.1404);
\draw[line width=0.9pt] (axis cs:-537.9,0) -- (axis cs:545.7,0);
\addplot[cy] coordinates {(-500,0.03) (-482,0.03) (-459,-0.01) (-436,-0.03) (-413,-0.04) (-390,-0.05) (-368,-0.09) (-345,-0.1) (-322,-0.1) (-300,-0.1) (-277,-0.09) (-253,-0.07) (-231,-0.05) (-208,-0.04) (-185,-0.01) (-162,0.01) (-139,0.03) (-116,0.04) (-94,0.09) (-71,0.13) (-48,0.21) (-25,0.28) (-2,0.31) (21,0.35) (36,0.35) (59,0.29) (81,0.22) (104,0.17) (127,0.13) (150,0.12) (173,0.17) (196,0.19) (218,0.14) (241,0.09) (264,0.06) (287,0.08) (310,0.09) (333,0.04) (355,0.03) (378,0.03) (401,0.03) (424,0.01) (447,-0.01) (470,-0.03) (500,-0.07)};
\addplot[mtb] coordinates {(-500,-0.05) (-482,-0.1) (-459,-0.09) (-436,-0.12) (-413,-0.15) (-390,-0.19) (-368,-0.15) (-345,-0.15) (-322,-0.17) (-300,-0.17) (-277,-0.19) (-253,-0.2) (-231,-0.18) (-208,-0.13) (-185,-0.12) (-162,-0.12) (-139,-0.13) (-116,-0.15) (-94,-0.13) (-71,-0.09) (-48,-0.08) (-33,-0.09) (-18,-0.05) (-2,0.01) (13,0.09) (28,0.12) (51,0.14) (71,0.17) (89,0.13) (112,0.1) (135,0.1) (158,0.08) (180,0.03) (203,0.01) (226,0.03) (249,0.01) (272,0.03) (295,0.08) (317,0.04) (340,0.01) (363,0.03) (386,0.03) (409,0.06) (432,0.04) (454,-0.01) (477,-0.04) (492,0.03) (500,0.04)};
\addplot[mtr] coordinates {(-500,-0.05) (-482,-0.07) (-459,-0.09) (-436,-0.07) (-413,-0.12) (-390,-0.17) (-368,-0.2) (-345,-0.22) (-322,-0.25) (-300,-0.26) (-277,-0.26) (-253,-0.25) (-231,-0.22) (-208,-0.17) (-185,-0.12) (-162,-0.1) (-139,-0.09) (-116,-0.1) (-101,-0.05) (-86,0.03) (-63,0.15) (-40,0.25) (-18,0.31) (5,0.38) (28,0.44) (46,0.47) (66,0.46) (89,0.38) (112,0.28) (135,0.22) (158,0.19) (180,0.19) (203,0.22) (226,0.15) (249,0.08) (272,0.1) (295,0.13) (317,0.13) (340,0.09) (363,0.04) (386,0.03) (409,0.01) (432,0.03) (454,0.01) (477,-0.03) (500,-0.01)};
\draw[line width=0.9pt] (axis cs:0,1.615) -- (axis cs:0,-1.1404);
\end{axis}
\node[font=\fs{13}\bfseries] at (621.7pt,-1248.3pt) {3’end};
\node[font=\fs{16}] at (625pt,-1432.7pt) {Distance (bp) to 3’end};
\end{tikzpicture}
\end{document}
